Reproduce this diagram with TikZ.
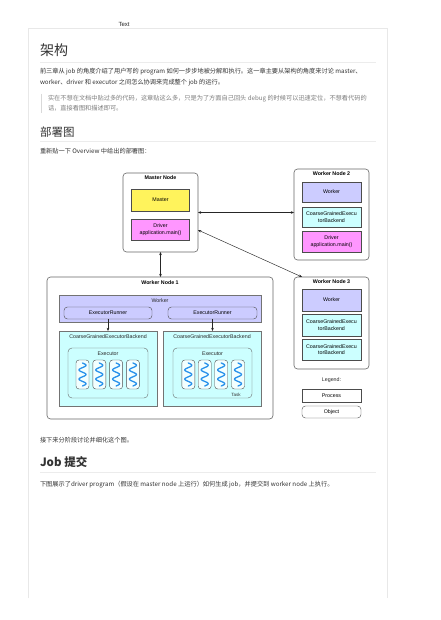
\documentclass[tikz,border=0pt]{standalone}
\usepackage{fontspec}
\setmainfont{Liberation Sans}
\newfontfamily\cjk{Noto Sans CJK SC}
\usetikzlibrary{arrows.meta}
\definecolor{cyel}{RGB}{255,243,92}
\definecolor{cmag}{RGB}{255,150,255}
\definecolor{cblu}{RGB}{204,204,255}
\definecolor{ccya}{RGB}{204,255,255}
\definecolor{ctask}{RGB}{242,255,255}
\definecolor{cwave}{RGB}{40,145,235}
\definecolor{ctxt}{RGB}{51,51,51}
\definecolor{cquote}{RGB}{125,125,125}
\definecolor{crule}{RGB}{236,236,236}
\definecolor{cframe}{RGB}{232,232,232}
\newcommand{\myfs}[2]{\fontsize{#1}{#2}\selectfont}
\begin{document}
\begin{tikzpicture}[x=1pt,y=-1pt,
  every node/.style={inner sep=0pt, outer sep=0pt},
  para/.style={anchor=west, font=\cjk\myfs{6.2}{7}, text=ctxt},
  quotetext/.style={anchor=west, font=\cjk\myfs{6.2}{7}, text=cquote},
  headone/.style={anchor=west, font=\cjk\myfs{14}{16}, text=ctxt},
  headtwo/.style={anchor=west, font=\cjk\myfs{11.5}{13}, text=ctxt},
  rulec/.style={draw=crule, line width=0.6pt},
  outerbox/.style={draw=black!60, line width=0.6pt, rounded corners=3.5pt, fill=white},
  inbox/.style={draw=black!70, line width=0.4pt, align=center, font=\myfs{5.3}{6.4}, text=black},
  objbox/.style={inbox, rounded corners=3.5pt},
  nodetitle/.style={font=\bfseries\myfs{5.3}{6.4}, anchor=north},
  lbl/.style={font=\myfs{5.3}{6.4}, text=black!85},
  task/.style={draw=black!70, line width=0.4pt, fill=ctask, rounded corners=3pt, minimum width=13pt, minimum height=29pt},
  wave/.style={draw=cwave, line width=1.3pt, line cap=round},
  arr/.style={{Stealth[length=3.2pt,width=2.6pt]}-{Stealth[length=3.2pt,width=2.6pt]}, line width=0.45pt, draw=black!85},
  onearr/.style={-{Stealth[length=3.2pt,width=2.6pt]}, line width=0.45pt, draw=black!85},
  ]
\useasboundingbox (0,0) rectangle (440,620);
\fill[white] (0,0) rectangle (440,620);
% page frame
\draw[draw=cframe, line width=0.6pt] (28.5,598) -- (28.5,28.5) -- (387.5,28.5) -- (387.5,598);

\node[font=\myfs{6}{7}, text=black!85] (txt) at (124,24.5) {Text};

\node[headone] (h1) at (40,50) {架构};
\draw[rulec] (40,62) -- (376,62);
\node[para] (p1) at (40,71.5) {前三章从 job 的角度介绍了用户写的 program 如何一步步地被分解和执行。这一章主要从架构的角度来讨论 master、};
\node[para] (p2) at (40,83) {worker、driver 和 executor 之间怎么协调来完成整个 job 的运行。};
\draw[draw=black!15, line width=1pt] (41.5,94) -- (41.5,113);
\node[quotetext] (q1) at (48,98.5) {实在不想在文档中贴过多的代码，这章贴这么多，只是为了方面自己回头 debug 的时候可以迅速定位，不想看代码的};
\node[quotetext] (q2) at (48,108.5) {话，直接看图和描述即可。};
\node[headtwo] (h2) at (40,132) {部署图};
\draw[rulec] (40,141) -- (376,141);
\node[para] (p3) at (40,151) {重新贴一下 Overview 中给出的部署图：};

% ---------- diagram ----------
% Master node
\node[outerbox, minimum width=75pt, minimum height=79pt] (mn) at (160.5,212.5) {};
\node[nodetitle] (mnt) at ([yshift=-3pt]mn.north) {Master Node};
\node[inbox, fill=cyel, minimum width=58pt, minimum height=22pt] (mas) at (160.5,200) {Master};
\node[inbox, fill=cmag, minimum width=58pt, minimum height=21pt] (drv) at (160.5,229.5) {Driver\\application.main()};

% Worker node 2
\node[outerbox, minimum width=75pt, minimum height=91pt] (wn2) at (331.5,214.5) {};
\node[nodetitle] (wn2t) at ([yshift=-3pt]wn2.north) {Worker Node 2};
\node[inbox, fill=cblu, minimum width=59pt, minimum height=20pt] (w2w) at (331.5,192) {Worker};
\node[inbox, fill=ccya, minimum width=59pt, minimum height=20pt] (w2c) at (331.5,217) {CoarseGrainedExecu\\torBackend};
\node[inbox, fill=cmag, minimum width=59pt, minimum height=21pt] (w2d) at (331.5,241.5) {Driver\\application.main()};

% Worker node 3
\node[outerbox, minimum width=75pt, minimum height=92pt] (wn3) at (331.5,323) {};
\node[nodetitle] (wn3t) at ([yshift=-3pt]wn3.north) {Worker Node 3};
\node[inbox, fill=cblu, minimum width=59pt, minimum height=22pt] (w3w) at (331.5,300) {Worker};
\node[inbox, fill=ccya, minimum width=59pt, minimum height=22pt] (w3c1) at (331.5,325) {CoarseGrainedExecu\\torBackend};
\node[inbox, fill=ccya, minimum width=59pt, minimum height=21pt] (w3c2) at (331.5,349.5) {CoarseGrainedExecu\\torBackend};

% Legend
\node[lbl] (leg) at (331.5,380) {Legend:};
\node[inbox, fill=white, minimum width=59pt, minimum height=13pt] (proc) at (331.5,395.5) {Process};
\node[objbox, fill=white, minimum width=59pt, minimum height=12pt] (obj) at (331.5,412) {Object};

% Worker node 1
\node[outerbox, minimum width=226pt, minimum height=142pt] (wn1) at (160,348) {};
\node[nodetitle] (wn1t) at ([yshift=-3.5pt]wn1.north) {Worker Node 1};
\node[draw=black!55, line width=0.4pt, fill=cblu, minimum width=202pt, minimum height=27pt] (wb) at (160,308.5) {};
\node[lbl] (wbl) at (160,301) {Worker};
\node[objbox, fill=cblu, minimum width=88pt, minimum height=12pt] (er1) at (108,313) {ExecutorRunner};
\node[objbox, fill=cblu, minimum width=89pt, minimum height=12pt] (er2) at (212.5,313) {ExecutorRunner};

\node[draw=black!55, line width=0.4pt, fill=ccya, minimum width=98pt, minimum height=75pt] (cg1) at (108,368.5) {};
\node[draw=black!55, line width=0.4pt, fill=ccya, minimum width=98pt, minimum height=75pt] (cg2) at (212,368.5) {};
\node[lbl] (cg1l) at (108,337) {CoarseGrainedExecutorBackend};
\node[lbl] (cg2l) at (212,337) {CoarseGrainedExecutorBackend};

\node[draw=black!60, line width=0.4pt, fill=ccya, rounded corners=4pt, minimum width=80pt, minimum height=50pt] (ex1) at (108,373) {};
\node[draw=black!60, line width=0.4pt, fill=ccya, rounded corners=4pt, minimum width=79pt, minimum height=50pt] (ex2) at (212.5,373) {};
\node[lbl] (ex1l) at (108,353.5) {Executor};
\node[lbl] (ex2l) at (212.5,353.5) {Executor};

\foreach \i/\tx in {1/82.5,2/99.3,3/116.1,4/132.9,5/188.3,6/204.7,7/221.2,8/238} {
  \node[task] (t\i) at (\tx,374.5) {};
  \draw[wave, shift={(t\i.center)}] plot[variable=\t, domain=0:1, samples=60, smooth] ({3.5*sin(\t*900)},{-11.5+\t*23});
}
\node[font=\myfs{4.6}{5.5}, text=black!80] (tasklbl) at (236,395) {Task};

% connectors
\draw[arr] (mn.south) -- (mn.south |- wn1.north);
\draw[arr] (mn.east) -- (mn.east -| wn2.west);
\draw[arr] ([yshift=-17.5pt]mn.east) -- ([xshift=8pt]wn3.north west);
\draw[onearr] (er1.south) -- (er1.south |- cg1.north);
\draw[onearr] (er2.south) -- (er2.south |- cg2.north);

% ---------- below ----------
\node[para] (p4) at (40,440) {接下来分阶段讨论并细化这个图。};
\node[headtwo, font=\cjk\bfseries\myfs{11.5}{13}] (h3) at (40,462.5) {Job 提交};
\draw[rulec] (40,472.5) -- (376,472.5);
\node[para] (p5) at (40,484.5) {下图展示了driver program（假设在 master node 上运行）如何生成 job，并提交到 worker node 上执行。};
\end{tikzpicture}
\end{document}
